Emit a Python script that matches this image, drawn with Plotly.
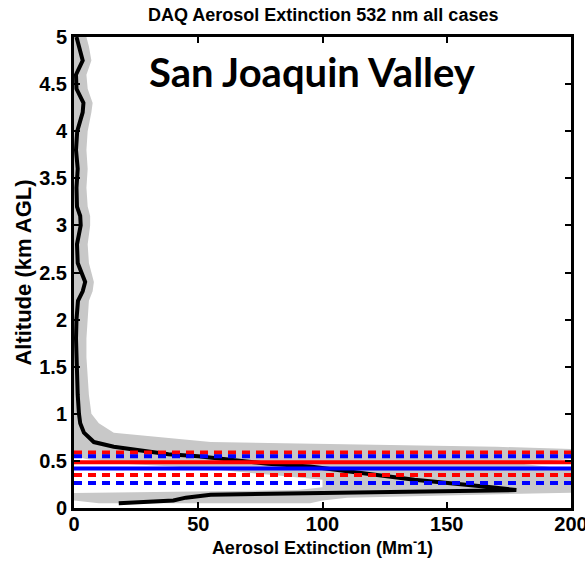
import plotly.graph_objects as go

# Mean aerosol extinction profile (Mm^-1) vs altitude (km AGL)
alt = [0.05, 0.08, 0.11, 0.14, 0.16, 0.18, 0.19, 0.22, 0.26, 0.30, 0.35, 0.40, 0.44, 0.47,
       0.52, 0.55, 0.57, 0.61, 0.65, 0.70, 0.80, 0.90, 1.0, 1.2, 1.4, 1.6, 1.8, 2.0, 2.2,
       2.3, 2.4, 2.5, 2.6, 2.8, 3.0, 3.1, 3.2, 3.4, 3.6, 3.8, 4.0, 4.2, 4.3, 4.45, 4.6,
       4.75, 4.9, 5.0]
ext_mean = [18, 40, 45, 55, 100, 165, 178, 168, 152, 137, 122, 107, 95, 78,
            62, 50, 38, 28, 16, 8, 4, 2.5, 2, 1.5, 1.2, 1.0, 0.8, 1.0, 1.6,
            3.5, 4.5, 3, 1.5, 1.2, 2.7, 2.5, 1.2, 1, 1.5, 0.8, 1.3, 3.5, 3.8, 1, 0.8,
            3.5, 2, 1]
ext_upper = [95, 100, 110, 170, 205, 230, 230, 230, 230, 220, 210, 200, 190, 180,
             200, 210, 215, 220, 170, 55, 16, 10, 7, 6, 5.5, 5, 5, 5.5, 6,
             7.5, 8, 7, 6, 5.5, 6.5, 6.5, 5.5, 5, 5.5, 5, 5.5, 7, 7.5, 5.5, 5,
             7, 6, 5]
ext_lower = [10, 0, 0, 0, 0, 50, 90, 100, 100, 100, 80, 60, 40, 20,
             5, 0, 0, 0, 0, 0, 0, 0, 0, 0, 0, 0, 0, 0, 0,
             0, 0, 0, 0, 0, 0, 0, 0, 0, 0, 0, 0, 0, 0, 0, 0,
             0, 0, 0]

# Boundary-layer height estimates (km AGL)
red_mean, red_lo, red_hi = 0.485, 0.35, 0.59
blue_mean, blue_lo, blue_hi = 0.42, 0.265, 0.55

x_range = [0, 200]
x_ticks = [0, 50, 100, 150, 200]
y_ticks = [0, 0.5, 1, 1.5, 2, 2.5, 3, 3.5, 4, 4.5, 5]
y_ticklabels = ["0", "0.5", "1", "1.5", "2", "2.5", "3", "3.5", "4", "4.5", "5"]

fig = go.Figure()

fig.add_trace(go.Scatter(
    x=ext_upper + ext_lower[::-1], y=alt + alt[::-1],
    fill="toself", fillcolor="#c8c8c8", line=dict(width=0),
    mode="lines", hoverinfo="skip", showlegend=False))

fig.add_trace(go.Scatter(x=ext_mean, y=alt, mode="lines",
                         line=dict(color="black", width=4), showlegend=False))

for yv, col, dash in [(red_hi, "red", "8px,6px"), (blue_hi, "blue", "8px,6px"),
                      (red_mean, "red", "solid"), (blue_mean, "blue", "solid"),
                      (red_lo, "red", "8px,6px"), (blue_lo, "blue", "8px,6px")]:
    fig.add_trace(go.Scatter(x=x_range, y=[yv, yv], mode="lines",
                             line=dict(color=col, width=4, dash=dash),
                             showlegend=False))

fig.add_annotation(text="San Joaquin Valley", x=0.48, y=0.925, xref="paper", yref="paper",
                   xanchor="center", yanchor="middle",
                   showarrow=False, font=dict(family="Lato", size=40, color="black",
                                              weight="bold"))

tickfont = dict(family="Liberation Sans", size=20, color="black", weight="bold")
fig.update_layout(
    width=585, height=561,
    margin=dict(l=74, r=14, t=37, b=53),
    paper_bgcolor="white", plot_bgcolor="white",
    title=dict(text="DAQ Aerosol Extinction 532 nm all cases", x=0.5525, xanchor="center",
               y=0.973, yanchor="middle",
               font=dict(family="Liberation Sans", size=18, color="black", weight="bold")),
    xaxis=dict(range=x_range, tickvals=x_ticks, ticks="inside", ticklen=6, tickwidth=2,
               tickcolor="black", showline=True, linewidth=3, linecolor="black",
               mirror="ticks", showgrid=False, zeroline=False, tickfont=tickfont,
               automargin=False, ticklabeloverflow="allow", ticklabelstandoff=-4,
               title=dict(text="Aerosol Extinction (Mm<sup>-</sup>1)", standoff=0,
                          font=dict(family="Liberation Sans", size=18, color="black",
                                    weight="bold"))),
    yaxis=dict(range=[0, 5], tickvals=y_ticks, ticktext=y_ticklabels, ticks="inside",
               ticklen=6, tickwidth=2, tickcolor="black", showline=True, linewidth=3,
               linecolor="black", mirror="ticks", showgrid=False, zeroline=False,
               tickfont=tickfont, automargin=False, ticklabeloverflow="allow",
               title=dict(text="Altitude (km AGL)", standoff=2,
                          font=dict(family="Liberation Sans", size=22, color="black",
                                    weight="bold"))),
)

fig.write_html("out.html")
